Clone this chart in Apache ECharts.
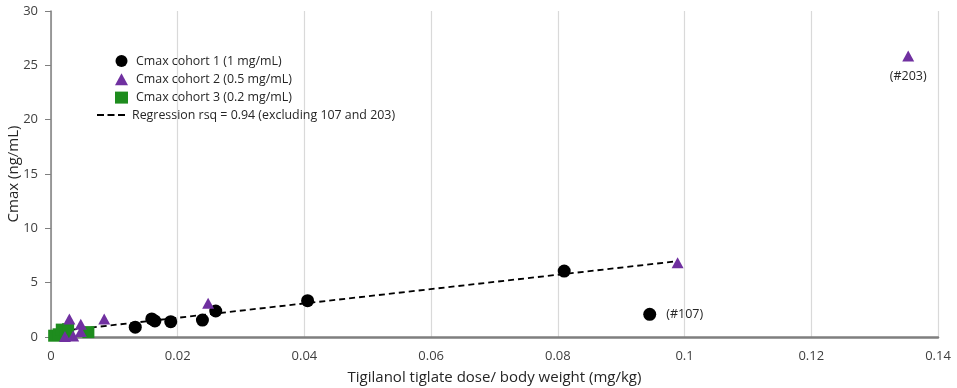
<!DOCTYPE html>
<html>
<head>
<meta charset="utf-8">
<script src="https://cdn.jsdelivr.net/npm/echarts@6/dist/echarts.min.js"></script>
<style>html,body{margin:0;padding:0;background:#fff}#c{width:957px;height:388px}</style>
</head>
<body>
<div id="c"></div>
<script>
// ---- data ----
var cohort1X = [0.0133, 0.0159, 0.0164, 0.0189, 0.0239, 0.0260, 0.0405, 0.0810, 0.0945];
var cohort1Y = [0.90, 1.66, 1.47, 1.41, 1.56, 2.39, 3.34, 6.07, 2.09];
var cohort1Labels = ['', '', '', '', '', '', '', '', '(#107)'];

var cohort2X = [0.0022, 0.0029, 0.0035, 0.0047, 0.0047, 0.0084, 0.0248, 0.0989, 0.1353];
var cohort2Y = [0.05, 1.66, 0.10, 1.17, 0.50, 1.66, 3.10, 6.84, 25.85];
var cohort2Labels = ['', '', '', '', '', '', '', '', '(#203)'];

var cohort3X = [0.0005, 0.0012, 0.0017, 0.0023, 0.0027, 0.0059];
var cohort3Y = [0.12, 0.25, 0.68, 0.42, 0.72, 0.45];

var regressionX = [0.0, 0.0985];
var regressionY = [0.45, 6.95];

var seriesNames = ['Cmax cohort 1 (1 mg/mL)', 'Cmax cohort 2 (0.5 mg/mL)', 'Cmax cohort 3 (0.2 mg/mL)', 'Regression rsq = 0.94 (excluding 107 and 203)'];
var xTickLabels = ['0', '0.02', '0.04', '0.06', '0.08', '0.1', '0.12', '0.14'];
var yTickLabels = ['0', '5', '10', '15', '20', '25', '30'];
var xAxisTitle = 'Tigilanol tiglate dose/ body weight (mg/kg)';
var yAxisTitle = 'Cmax (ng/mL)';

// ---- build ----
var font = 'Open Sans';
function pts(xs, ys, labels, pos) {
  return xs.map(function (x, i) {
    var d = { value: [x, ys[i]] };
    if (labels && labels[i]) {
      d.label = { show: true, formatter: labels[i], position: pos, distance: pos === 'right' ? 10 : 8,
        color: '#262626', fontSize: 12.5, fontFamily: font };
    }
    return d;
  });
}
var xMap = {}; xTickLabels.forEach(function (t, i) { xMap[(i * 0.02).toFixed(2)] = t; });

var chart = echarts.init(document.getElementById('c'), null, { renderer: 'canvas' });
chart.setOption({
  animation: false,
  textStyle: { fontFamily: font },
  grid: { left: 51, right: 19, top: 11, bottom: 51, containLabel: false, outerBoundsMode: 'none' },
  legend: [{
    data: seriesNames.slice(0, 3),
    orient: 'vertical', left: 110, top: 50,
    itemWidth: 13, itemHeight: 12, itemGap: 6.3,
    textStyle: { fontSize: 12.4, color: '#262626', fontFamily: font, padding: [0, 0, 0, 3] },
    selectedMode: false
  }, {
    data: [{ name: seriesNames[3], icon: 'path://M0,0h7v2h-7z M10.5,0h7v2h-7z M21,0h7v2h-7z' }],
    left: 92, top: 104,
    itemWidth: 28, itemHeight: 2,
    itemStyle: { color: '#000' },
    textStyle: { fontSize: 12.4, color: '#262626', fontFamily: font, padding: [0, 0, 0, 2] },
    selectedMode: false
  }],
  xAxis: {
    type: 'value', min: 0, max: 0.14, interval: 0.02,
    name: xAxisTitle, nameLocation: 'middle', nameGap: 33, nameMoveOverlap: false,
    nameTextStyle: { fontSize: 15, color: '#262626', fontFamily: font },
    axisLine: { show: true, onZero: false, lineStyle: { color: '#7f7f7f', width: 2.5 } },
    axisTick: { show: false },
    axisLabel: { fontSize: 13, color: '#404040', margin: 13,
      formatter: function (v) { return xMap[v.toFixed(2)]; } },
    splitLine: { show: true, lineStyle: { color: '#d9d9d9', width: 1.2 } }
  },
  yAxis: {
    type: 'value', min: 0, max: 30, interval: 5,
    name: yAxisTitle, nameLocation: 'middle', nameGap: 30, nameRotate: 90, nameMoveOverlap: false,
    nameTextStyle: { fontSize: 15, color: '#262626', fontFamily: font },
    axisLine: { show: true, onZero: false, lineStyle: { color: '#7f7f7f', width: 1.5 } },
    axisTick: { show: true, inside: false, length: 6, lineStyle: { color: '#7f7f7f', width: 1 } },
    axisLabel: { fontSize: 13, color: '#404040', margin: 13,
      formatter: function (v) { return yTickLabels[Math.round(v / 5)]; } },
    splitLine: { show: false }
  },
  series: [{
    name: seriesNames[3], type: 'line', z: 1,
    data: regressionX.map(function (x, i) { return [x, regressionY[i]]; }),
    symbol: 'none', showSymbol: false,
    lineStyle: { color: '#000', width: 1.8, type: [6, 4] },
    itemStyle: { color: '#000' }
  }, {
    name: seriesNames[0], type: 'scatter', z: 3,
    data: pts(cohort1X, cohort1Y, cohort1Labels, 'right'),
    symbol: 'circle', symbolSize: 13,
    itemStyle: { color: '#000', opacity: 1 }
  }, {
    name: seriesNames[1], type: 'scatter', z: 4,
    data: pts(cohort2X, cohort2Y, cohort2Labels, 'bottom'),
    symbol: 'triangle', symbolSize: [12, 11],
    itemStyle: { color: '#7030a0', opacity: 1 }
  }, {
    name: seriesNames[2], type: 'scatter', z: 2,
    data: pts(cohort3X, cohort3Y, null),
    symbol: 'rect', symbolSize: 12,
    itemStyle: { color: '#1e8c1e', opacity: 1 }
  }]
});
</script>
</body>
</html>
